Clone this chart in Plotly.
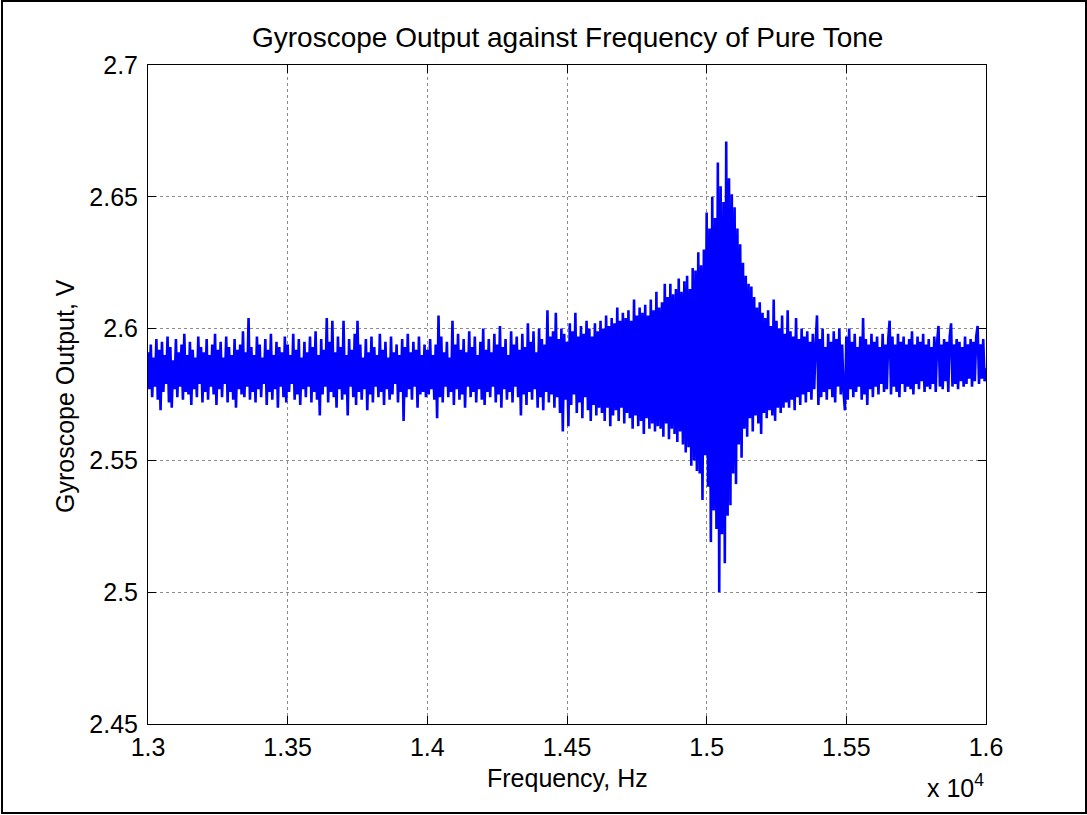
import plotly.graph_objects as go

# Frequency sweep (Hz): 13000 -> 16000, uniform grid, one reading per step
freq_start = 13000
freq_stop = 16000

# Gyroscope output (V), segment by segment
v_13000_13995 = [
    2.591, 2.577, 2.594, 2.574, 2.589, 2.578, 2.596, 2.573, 2.592, 2.569,
    2.595, 2.576, 2.590, 2.579, 2.597, 2.572, 2.593, 2.570, 2.588, 2.577,
    2.596, 2.574, 2.591, 2.578, 2.594, 2.573, 2.598, 2.576, 2.590, 2.575,
    2.595, 2.571, 2.592, 2.577, 2.589, 2.574, 2.597, 2.579, 2.593, 2.572,
    2.591, 2.576, 2.596, 2.573, 2.590, 2.578, 2.594, 2.575, 2.598, 2.571,
    2.592, 2.577, 2.595, 2.574, 2.589, 2.579, 2.597, 2.572, 2.593, 2.576,
    2.590, 2.573, 2.596, 2.570, 2.592, 2.577, 2.594, 2.575, 2.599, 2.574,
    2.591, 2.578, 2.604, 2.573, 2.593, 2.576, 2.590, 2.572, 2.597, 2.577,
    2.594, 2.574, 2.589, 2.579, 2.596, 2.571, 2.592, 2.576, 2.598, 2.573,
    2.590, 2.577, 2.595, 2.570, 2.593, 2.578, 2.591, 2.574, 2.597, 2.572,
    2.594, 2.576, 2.590, 2.579, 2.598, 2.573, 2.592, 2.575, 2.596, 2.571,
    2.589, 2.577, 2.595, 2.574, 2.591, 2.578, 2.597, 2.572, 2.593, 2.576,
    2.599, 2.573, 2.590, 2.567, 2.596, 2.575, 2.592, 2.578, 2.604, 2.572,
    2.595, 2.576, 2.603, 2.574, 2.591, 2.570, 2.597, 2.577, 2.593, 2.573,
    2.603, 2.575, 2.590, 2.567, 2.596, 2.578, 2.592, 2.574, 2.598, 2.571,
    2.603, 2.576, 2.594, 2.573, 2.589, 2.577, 2.596, 2.569, 2.591, 2.575,
    2.597, 2.572, 2.593, 2.578, 2.590, 2.574, 2.598, 2.576, 2.592, 2.571,
    2.595, 2.577, 2.589, 2.573, 2.597, 2.575, 2.591, 2.579, 2.594, 2.572,
    2.590, 2.576, 2.596, 2.565, 2.593, 2.574, 2.598, 2.577, 2.591, 2.573,
    2.595, 2.578, 2.592, 2.570, 2.597, 2.575, 2.590, 2.576, 2.594, 2.574,
]
v_14000_14615 = [
    2.592, 2.575, 2.596, 2.577, 2.590, 2.573, 2.594, 2.566, 2.605, 2.574,
    2.597, 2.572, 2.591, 2.578, 2.595, 2.574, 2.589, 2.576, 2.603, 2.571,
    2.594, 2.577, 2.598, 2.573, 2.592, 2.575, 2.596, 2.570, 2.591, 2.578,
    2.599, 2.574, 2.593, 2.576, 2.597, 2.572, 2.590, 2.577, 2.595, 2.573,
    2.600, 2.571, 2.592, 2.576, 2.596, 2.574, 2.591, 2.578, 2.598, 2.572,
    2.594, 2.575, 2.601, 2.570, 2.593, 2.577, 2.596, 2.573, 2.590, 2.576,
    2.599, 2.572, 2.594, 2.578, 2.597, 2.574, 2.592, 2.567, 2.598, 2.575,
    2.593, 2.571, 2.602, 2.576, 2.595, 2.573, 2.599, 2.577, 2.591, 2.570,
    2.600, 2.574, 2.596, 2.569, 2.594, 2.576, 2.607, 2.572, 2.597, 2.575,
    2.599, 2.570, 2.606, 2.574, 2.596, 2.568, 2.600, 2.561, 2.598, 2.573,
    2.595, 2.563, 2.602, 2.571, 2.599, 2.575, 2.606, 2.568, 2.597, 2.572,
    2.601, 2.566, 2.598, 2.574, 2.603, 2.569, 2.600, 2.565, 2.597, 2.571,
    2.602, 2.567, 2.599, 2.570,
]
v_14620_14965 = [
    2.603, 2.568, 2.600, 2.565, 2.605, 2.570, 2.601, 2.563, 2.604, 2.567,
    2.602, 2.569, 2.608, 2.565, 2.603, 2.570, 2.606, 2.564, 2.604, 2.568,
    2.607, 2.566, 2.603, 2.562, 2.611, 2.567, 2.605, 2.563, 2.608, 2.565,
    2.606, 2.560, 2.609, 2.566, 2.605, 2.562, 2.611, 2.564, 2.607, 2.561,
    2.614, 2.563, 2.608, 2.562, 2.610, 2.559, 2.617, 2.564, 2.612, 2.558,
    2.617, 2.562, 2.613, 2.560, 2.615, 2.557, 2.619, 2.561, 2.614, 2.556,
    2.618, 2.553, 2.620, 2.555, 2.615, 2.548, 2.623, 2.550, 2.622, 2.546,
]
v_14970_15275 = [
    2.629, 2.545, 2.624, 2.535, 2.630, 2.552, 2.644, 2.540, 2.638, 2.519,
    2.650, 2.531, 2.642, 2.524, 2.663, 2.500, 2.654, 2.522, 2.648, 2.511,
    2.671, 2.529, 2.657, 2.533, 2.651, 2.545, 2.646, 2.541, 2.638, 2.556,
    2.632, 2.551, 2.625, 2.562, 2.620, 2.559, 2.617, 2.566, 2.616, 2.561,
    2.612, 2.567, 2.608, 2.564, 2.610, 2.560, 2.606, 2.568, 2.604, 2.566,
    2.607, 2.569, 2.601, 2.567, 2.611, 2.565, 2.603, 2.570, 2.600, 2.568,
    2.605, 2.570,
]
v_15280_16000 = [
    2.598, 2.572, 2.607, 2.570, 2.599, 2.573, 2.597, 2.569, 2.604, 2.574,
    2.596, 2.571, 2.600, 2.575, 2.597, 2.572, 2.599, 2.576, 2.595, 2.573,
    2.598, 2.577, 2.594, 2.605, 2.571, 2.596, 2.574, 2.600, 2.576, 2.593,
    2.573, 2.598, 2.577, 2.595, 2.574, 2.599, 2.572, 2.596, 2.578, 2.600,
    2.575, 2.594, 2.576, 2.569, 2.597, 2.573, 2.600, 2.577, 2.595, 2.574,
    2.598, 2.576, 2.593, 2.578, 2.597, 2.573, 2.604, 2.575, 2.596, 2.571,
    2.594, 2.577, 2.598, 2.574, 2.595, 2.578, 2.597, 2.575, 2.593, 2.579,
    2.598, 2.576, 2.594, 2.577, 2.596, 2.603, 2.575, 2.597, 2.578, 2.594,
    2.576, 2.598, 2.574, 2.595, 2.579, 2.597, 2.576, 2.594, 2.578, 2.596,
    2.577, 2.599, 2.575, 2.594, 2.579, 2.597, 2.577, 2.595, 2.580, 2.598,
    2.576, 2.594, 2.578, 2.596, 2.577, 2.593, 2.579, 2.597, 2.576, 2.595,
    2.601, 2.578, 2.594, 2.577, 2.596, 2.580, 2.595, 2.576, 2.597, 2.602,
    2.578, 2.594, 2.579, 2.596, 2.577, 2.595, 2.580, 2.593, 2.578, 2.597,
    2.579, 2.594, 2.581, 2.596, 2.578, 2.595, 2.580, 2.597, 2.601, 2.579,
    2.594, 2.581, 2.596, 2.580, 2.585,
]

x_tick_vals = [13000, 13500, 14000, 14500, 15000, 15500, 16000]
x_tick_text = ["1.3", "1.35", "1.4", "1.45", "1.5", "1.55", "1.6"]
y_tick_vals = [2.45, 2.5, 2.55, 2.6, 2.65, 2.7]
y_tick_text = ["2.45", "2.5", "2.55", "2.6", "2.65", "2.7"]

title_text = "Gyroscope Output against Frequency of Pure Tone"
x_label = "Frequency, Hz"
y_label = "Gyroscope Output, V"

voltage = v_13000_13995 + v_14000_14615 + v_14620_14965 + v_14970_15275 + v_15280_16000
n = len(voltage)
frequency = [freq_start + (freq_stop - freq_start) * k / (n - 1) for k in range(n)]

W, H = 1087, 815
L, R, T, B = 148, 986, 65, 724  # plot area pixel box
pw, ph = R - L, B - T


def px(xp):
    return (xp - L) / pw


def py(yp):
    return (B - yp) / ph


FONT = "Liberation Sans, Arial, sans-serif"

fig = go.Figure()
fig.add_trace(go.Scatter(
    x=frequency, y=voltage, mode="lines",
    line=dict(color="rgb(0,0,255)", width=2.6),
    showlegend=False, hoverinfo="skip",
))

axis_common = dict(
    showline=True, linecolor="black", linewidth=1, mirror="allticks",
    ticks="inside", ticklen=8, tickcolor="black", tickwidth=1,
    showgrid=True, gridcolor="rgb(140,140,140)", griddash="dot", gridwidth=1,
    zeroline=False, tickfont=dict(family=FONT, size=25, color="black"),
)

fig.update_layout(
    width=W, height=H,
    margin=dict(l=L, r=W - R, t=T, b=H - B, pad=0),
    paper_bgcolor="white", plot_bgcolor="white",
    xaxis=dict(range=[freq_start, freq_stop], tickvals=x_tick_vals, ticktext=x_tick_text,
               ticklabelstandoff=1, **axis_common),
    yaxis=dict(range=[2.45, 2.7], tickvals=y_tick_vals, ticktext=y_tick_text,
               ticklabelstandoff=4, **axis_common),
    annotations=[
        dict(text=title_text, xref="paper", yref="paper", x=px(567), y=py(37),
             xanchor="center", yanchor="middle", showarrow=False,
             font=dict(family=FONT, size=28, color="black")),
        dict(text=x_label, xref="paper", yref="paper", x=px(567), y=py(778),
             xanchor="center", yanchor="middle", showarrow=False,
             font=dict(family=FONT, size=25, color="black")),
        dict(text=y_label, xref="paper", yref="paper", x=px(65), y=py(396),
             xanchor="center", yanchor="middle", showarrow=False, textangle=-90,
             font=dict(family=FONT, size=25, color="black")),
        dict(text="x 10<sup>4</sup>", xref="paper", yref="paper", x=px(986), y=py(786),
             xanchor="right", yanchor="middle", showarrow=False,
             font=dict(family=FONT, size=25, color="black")),
    ],
    shapes=[
        dict(type="rect", xref="paper", yref="paper",
             x0=px(2), x1=px(1086), y0=py(813), y1=py(1),
             line=dict(color="black", width=2), fillcolor="rgba(0,0,0,0)", layer="above"),
    ],
)

fig.write_html("out.html")
